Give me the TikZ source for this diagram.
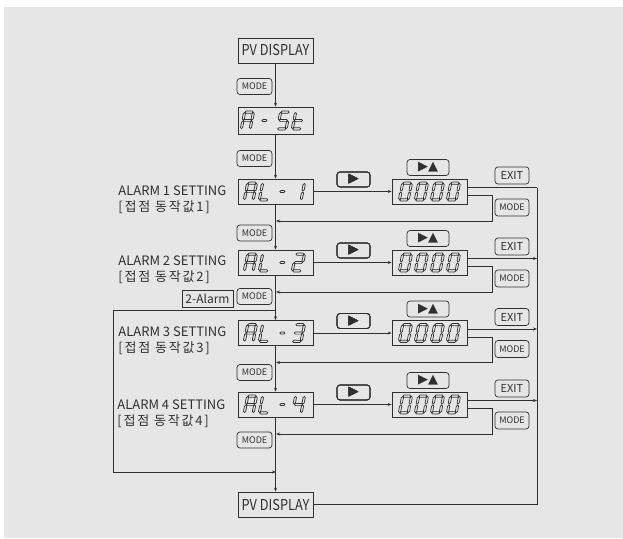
\documentclass[tikz,border=0pt]{standalone}
\usepackage{fontspec}
\setmainfont{Noto Sans CJK KR}
\newfontfamily\symfont{DejaVu Sans}
\usetikzlibrary{arrows.meta}
\definecolor{bggray}{HTML}{E6E6E6}
\definecolor{ink}{HTML}{303030}

% seven segment pieces, local units, y up
\newcommand{\hseg}[1]{\draw[segline] (1.4,#1) -- (2.5,#1+1.1) -- (8.5,#1+1.1) -- (9.6,#1) -- (8.5,#1-1.1) -- (2.5,#1-1.1) -- cycle;}
\newcommand{\vseg}[3]{\draw[segline] (#1,#2) -- (#1+1.1,#2+1.1) -- (#1+1.1,#3-1.1) -- (#1,#3) -- (#1-1.1,#3-1.1) -- (#1-1.1,#2+1.1) -- cycle;}
\newcommand{\sega}{\hseg{17.9}}
\newcommand{\segg}{\hseg{9.5}}
\newcommand{\segd}{\hseg{1.1}}
\newcommand{\segf}{\vseg{1.1}{10.0}{17.5}}
\newcommand{\sege}{\vseg{1.1}{1.5}{9.0}}
\newcommand{\segb}{\vseg{9.9}{10.0}{17.5}}
\newcommand{\segc}{\vseg{9.9}{1.5}{9.0}}
\newcommand{\segm}{\draw[segline] (3,9.5) -- (3.9,10.5) -- (7.1,10.5) -- (8,9.5) -- (7.1,8.5) -- (3.9,8.5) -- cycle;}
\newcommand{\glyph}[3]{%
  \begin{scope}[shift={(#1,#2+9.5)},yscale=-1,xslant=-0.2]
    \foreach \s in {#3} {\csname seg\s\endcsname}
  \end{scope}}
\newcommand{\kor}[1]{{\addfontfeature{LetterSpace=14}#1}}
\newcommand{\pvtext}{\scalebox{0.85}[1]{PV DISPLAY}}

\begin{document}
\begin{tikzpicture}[x=1pt,y=-1pt,color=ink,line width=0.7pt,
    >={Stealth[length=4pt,width=3pt]},
    disp/.style={draw, rectangle, minimum width=75pt, minimum height=25pt, inner sep=0pt},
    btn/.style={draw, rounded corners=3pt, minimum width=35pt, minimum height=16pt, inner sep=0pt, font=\fontsize{9}{9}\selectfont},
    segline/.style={line width=0.7pt},
    lbl/.style={anchor=west, align=left, inner sep=0pt, font=\fontsize{13}{16}\selectfont}]
  \fill[bggray] (4,7) rectangle (623,538);
  \useasboundingbox (0,0) rectangle (623,538);

  % main column
  \node (pvtop) [disp, font=\fontsize{15}{15}\selectfont] at (275.5,50.5) {\pvtext};
  \node (btn0) [btn] at (254.5,86.5) {MODE};
  \node (ast) [disp, minimum height=27pt] at (275.5,120.5) {};
  \node (btn1) [btn] at (254.5,158.5) {MODE};
  \node (al1) [disp] at (275.5,191.5) {};
  \node (btn2) [btn] at (254.5,233) {MODE};
  \node (al2) [disp] at (275.5,262.5) {};
  \node (btn3) [btn] at (254.5,296.5) {MODE};
  \node (twoalm) [draw, rectangle, minimum width=51pt, minimum height=17pt, inner sep=0pt, font=\fontsize{12}{12}\selectfont] at (207.5,298.5) {2-Alarm};
  \node (al3) [disp] at (275.5,333) {};
  \node (btn4) [btn] at (254.5,372.5) {MODE};
  \node (al4) [disp] at (275.5,404.5) {};
  \node (btn5) [btn] at (254.5,440) {MODE};
  \node (pvbot) [disp, font=\fontsize{15}{15}\selectfont] at (275.5,504.5) {\pvtext};

  \node (lab1) [lbl] at (118,200) {ALARM 1 SETTING\\\kor{{[}접점 동작값1{]}}};
  \node (lab2) [lbl] at (118,270) {ALARM 2 SETTING\\\kor{{[}접점 동작값2{]}}};
  \node (lab3) [lbl] at (118,341) {ALARM 3 SETTING\\\kor{{[}접점 동작값3{]}}};
  \node (lab4) [lbl] at (117,414) {ALARM 4 SETTING\\\kor{{[}접점 동작값4{]}}};

  % segment texts
  \glyph{240}{120.5}{a,b,c,e,f,g}
  \glyph{257}{120.5}{m}
  \glyph{276}{120.5}{a,f,g,c,d}
  \glyph{291}{120.5}{f,e,g,d}
  \foreach \y in {191.5,262.5,333,404.5} {
    \glyph{243}{\y}{a,b,c,e,f,g}
    \glyph{258}{\y}{f,e,d}
    \glyph{275}{\y}{m}
  }
  \glyph{291}{191.5}{b,c}
  \glyph{291}{262.5}{a,b,g,e,d}
  \glyph{291}{333}{a,b,g,c,d}
  \glyph{291}{404.5}{f,g,b,c}

  % setting rows
  \foreach \k/\y in {1/191.5,2/262.5,3/333,4/404.5} {
    \node (dat\k) [disp] at (429.5,\y) {};
    \foreach \x in {398,414,430,446}
      \glyph{\x}{\y}{a,b,c,d,e,f}
    \node (go\k) [btn, minimum width=33pt, minimum height=15pt, font=\symfont\fontsize{13}{13}\selectfont] at (353.5,\y-12) {▶};
    \node (up\k) [btn, minimum width=42pt, font=\symfont\fontsize{13}{13}\selectfont] at (428,\y-24) {▶▲};
    \node (exit\k) [btn, minimum width=34pt, minimum height=17pt, font=\fontsize{11}{11}\selectfont] at (512,\y-16) {EXIT};
    \node (mode\k) [btn, minimum width=34pt, minimum height=17pt] at (512,\y+16) {MODE};
    \coordinate (ret\k) at (276,\y+29.5);
    \coordinate (ex\k) at (537,\y-4);
    \draw[->] (al\k) -- (dat\k);
    \draw[->] ([yshift=-4pt]dat\k.east) -| (492,\y+29.5) -- (ret\k);
  }
  \draw ([yshift=4pt]dat1.east) -- (ex1);
  \foreach \k in {2,3,4}
    \draw[->] ([yshift=4pt]dat\k.east) -- (ex\k);
  \draw (pvbot.east) -| (ex1);

  \draw[->] (pvtop) -- (ast);
  \draw[->] (ast) -- (al1);
  \draw[->] (al1) -- (al2);
  \draw[->] (al2) -- (al3);
  \draw[->] (al3) -- (al4);
  \draw[->] (al4) -- (pvbot);

  % skip branch for 2-Alarm
  \coordinate (fork) at (276,310);
  \coordinate (join) at (276,472);
  \draw[->] (fork) -- (113,310) -- (113,472) -- (join);
\end{tikzpicture}
\end{document}
